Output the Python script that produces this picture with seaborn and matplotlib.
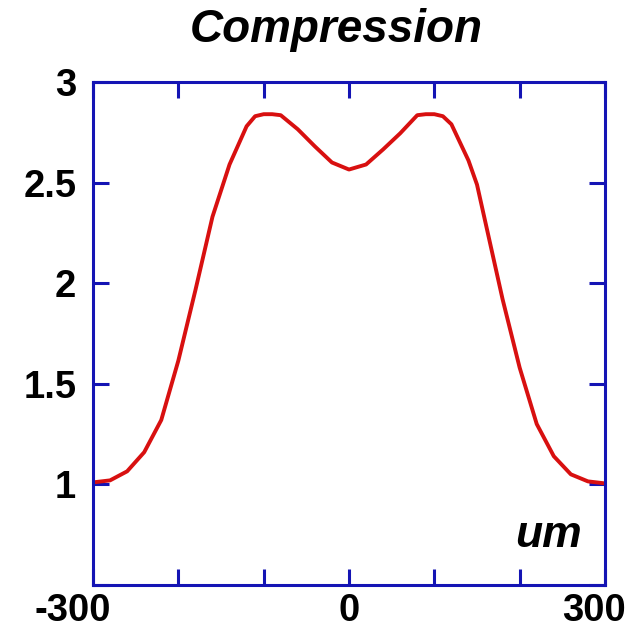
import matplotlib
matplotlib.use("Agg")
import matplotlib.pyplot as plt
import matplotlib.transforms as mtransforms
import seaborn as sns
import pandas as pd

# Data
position_um = [-300, -280, -260, -240, -220, -200, -180, -160, -150, -140, -120, -110, -100, -90, -80,
               -60, -40, -20, 0, 20, 40, 60, 80, 90, 100, 110, 120, 140, 150, 160, 180, 200,
               220, 240, 260, 280, 300]
compression = [1.01, 1.02, 1.065, 1.16, 1.32, 1.615, 1.965, 2.33, 2.46, 2.59, 2.78, 2.83, 2.84, 2.84, 2.835,
               2.765, 2.68, 2.60, 2.565, 2.59, 2.665, 2.745, 2.835, 2.84, 2.84, 2.83, 2.79, 2.61, 2.49, 2.30,
               1.92, 1.58, 1.30, 1.14, 1.05, 1.015, 1.005]
x_ticks = [-300, -200, -100, 0, 100, 200, 300]
x_tick_labels = ["-300", "", "", "0", "", "", "300"]
y_ticks = [0.5, 1, 1.5, 2, 2.5, 3]
y_tick_labels = ["", "1", "1.5", "2", "2.5", "3"]
title = "Compression"
unit_label = "um"

df = pd.DataFrame({"x": position_um, "y": compression})

sns.set_theme(style="white")
plt.rcParams["font.family"] = ["Liberation Sans", "DejaVu Sans"]

fig = plt.figure(figsize=(6.44, 6.33), dpi=100)
ax = fig.add_axes([93 / 644, 1 - 585 / 633, 512 / 644, 503 / 633])

sns.lineplot(data=df, x="x", y="y", ax=ax, color="#d81010", linewidth=2.8)

ax.set_xlim(-300, 300)
ax.set_ylim(0.5, 3)
ax.set_xlabel("")
ax.set_ylabel("")

blue = "#1414b4"
for s in ax.spines.values():
    s.set_color(blue)
    s.set_linewidth(2.2)
    s.set_visible(True)

ax.set_xticks(x_ticks)
ax.set_xticklabels(x_tick_labels)
ax.set_yticks(y_ticks)
ax.set_yticklabels(y_tick_labels)
ax.tick_params(axis="both", direction="in", length=11.5, width=2.2, color=blue,
               top=True, right=True, bottom=True, left=True,
               labelsize=27.5, labelcolor="black")
ax.tick_params(axis="x", pad=6)
ax.tick_params(axis="y", pad=12)
for lab in ax.get_xticklabels() + ax.get_yticklabels():
    lab.set_fontweight("bold")

# the outer x labels sit slightly left of their ticks in the reference
xlabs = ax.get_xticklabels()
shift = {0: -20, 6: -11}
for i, px in shift.items():
    off = mtransforms.ScaledTranslation(px / 100, 0, fig.dpi_scale_trans)
    xlabs[i].set_transform(xlabs[i].get_transform() + off)

ax.text(273, 0.69, unit_label, fontsize=32, fontweight="bold", fontstyle="italic",
        ha="right", va="baseline", color="black")

fig.text(336 / 644, 1 - 42 / 633, title, fontsize=33, fontweight="bold",
         fontstyle="italic", ha="center", va="baseline", color="black")

fig.savefig("out.png", dpi=100, facecolor="white")
